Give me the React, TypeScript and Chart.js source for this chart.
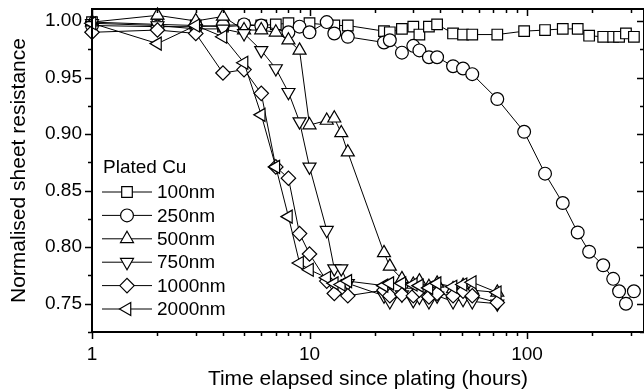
import React, { useEffect, useRef } from 'react';
import { Chart, registerables } from 'chart.js';

Chart.register(...registerables);

const FONT = "'Liberation Sans', Arial, Helvetica, sans-serif";

// ---- axis / label text ----
const X_TITLE = 'Time elapsed since plating (hours)';
const Y_TITLE = 'Normalised sheet resistance';
const LEGEND_TITLE = 'Plated Cu';
const X_TICKS = [1, 10, 100];
const Y_TICKS = [0.75, 0.8, 0.85, 0.9, 0.95, 1.0];
const X_MIN = 1;
const X_MAX = 345;
const Y_MIN = 0.725;
const Y_MAX = 1.0106;
const Y_MINOR_STEP = 0.025;

// ---- data ----
const SERIES_NAMES = ['100nm', '250nm', '500nm', '750nm', '1000nm', '2000nm'];

const T_100 = [1, 2, 3, 4, 5, 6, 7, 8, 10, 13, 15, 22, 23.4, 26.6, 30, 32, 35.4, 38.6, 45.7, 50.8, 56, 73, 97, 121, 146, 171, 193, 224, 249, 265, 285, 310];
const R_100 = [0.999, 0.997, 0.996, 0.995, 0.996, 0.996, 0.997, 0.998, 0.998, 0.996, 0.996, 0.991, 0.990, 0.993, 0.995, 0.988, 0.995, 0.997, 0.989, 0.988, 0.988, 0.988, 0.991, 0.992, 0.993, 0.993, 0.987, 0.986, 0.986, 0.986, 0.989, 0.986];

const T_250 = [1, 2, 3, 4, 5, 6, 8, 9, 10, 12, 13, 15, 22, 23.4, 26.6, 30, 32, 35.4, 38.6, 45.7, 50.8, 56, 73, 97, 121, 146, 171, 193, 224, 249, 265, 285, 310];
const R_250 = [0.996, 0.995, 0.995, 0.996, 0.997, 0.996, 0.990, 0.995, 0.990, 0.999, 0.989, 0.986, 0.981, 0.983, 0.972, 0.978, 0.974, 0.968, 0.968, 0.960, 0.958, 0.953, 0.931, 0.902, 0.865, 0.839, 0.813, 0.796, 0.784, 0.772, 0.761, 0.750, 0.761];

const T_500 = [1, 2, 3, 4, 5, 6, 7, 8, 9, 10, 12, 13, 14, 15, 22, 23.4, 26.6, 30, 32, 35.4, 38.6, 45.7, 50.8, 56, 73];
const R_500 = [0.999, 1.005, 1.000, 1.004, 0.992, 0.992, 0.990, 0.983, 0.974, 0.908, 0.912, 0.914, 0.901, 0.884, 0.795, 0.783, 0.772, 0.767, 0.770, 0.765, 0.768, 0.763, 0.766, 0.762, 0.760];

const T_750 = [1, 2, 3, 4, 5, 6, 7, 8, 9, 10, 12, 13, 14, 15, 22, 23.4, 26.6, 30, 32, 35.4, 38.6, 45.7, 50.8, 56, 73];
const R_750 = [0.998, 0.996, 0.993, 0.993, 0.989, 0.974, 0.958, 0.937, 0.911, 0.871, 0.815, 0.781, 0.781, 0.768, 0.757, 0.752, 0.758, 0.753, 0.756, 0.752, 0.757, 0.752, 0.754, 0.752, 0.750];

const T_1000 = [1, 2, 3, 4, 5, 6, 7, 8, 9, 10, 12, 13, 15, 22, 23.4, 26.6, 30, 32, 35.4, 38.6, 45.7, 50.8, 56, 73];
const R_1000 = [0.990, 0.992, 0.989, 0.954, 0.957, 0.936, 0.871, 0.861, 0.812, 0.794, 0.770, 0.759, 0.757, 0.762, 0.757, 0.758, 0.757, 0.762, 0.756, 0.759, 0.757, 0.761, 0.757, 0.751];

const T_2000 = [1, 2, 3, 4, 5, 6, 7, 8, 9, 10, 12, 13, 14, 15, 22, 23.4, 26.6, 30, 32, 35.4, 38.6, 45.7, 50.8, 56, 73];
const R_2000 = [0.998, 0.980, 0.996, 0.986, 0.963, 0.917, 0.871, 0.827, 0.786, 0.780, 0.773, 0.768, 0.767, 0.770, 0.766, 0.768, 0.768, 0.767, 0.766, 0.764, 0.768, 0.765, 0.767, 0.769, 0.760];

const SERIES_T = [T_100, T_250, T_500, T_750, T_1000, T_2000];
const SERIES_R = [R_100, R_250, R_500, R_750, R_1000, R_2000];

// ---- marker styles ----
const MARKERS = [
  { style: 'rect', radius: 7.5, rotation: 0 },
  { style: 'circle', radius: 6.4, rotation: 0 },
  { style: 'triangle', radius: 7.5, rotation: 0 },
  { style: 'triangle', radius: 7.5, rotation: 180 },
  { style: 'rectRot', radius: 7.2, rotation: 0 },
  { style: 'triangle', radius: 7.5, rotation: 270 },
];

function drawMarker(ctx: CanvasRenderingContext2D, m: any, x: number, y: number) {
  const r = m.radius;
  ctx.beginPath();
  if (m.style === 'rect') {
    const s = r * Math.SQRT1_2;
    ctx.rect(x - s, y - s, 2 * s, 2 * s);
  } else if (m.style === 'circle') {
    ctx.arc(x, y, r, 0, Math.PI * 2);
  } else if (m.style === 'rectRot') {
    ctx.moveTo(x - r, y);
    ctx.lineTo(x, y - r);
    ctx.lineTo(x + r, y);
    ctx.lineTo(x, y + r);
    ctx.closePath();
  } else {
    let rad = (m.rotation * Math.PI) / 180;
    for (let i = 0; i < 3; i++) {
      const px = x + Math.sin(rad) * r;
      const py = y - Math.cos(rad) * r;
      if (i === 0) ctx.moveTo(px, py);
      else ctx.lineTo(px, py);
      rad += (2 * Math.PI) / 3;
    }
    ctx.closePath();
  }
  ctx.fillStyle = '#fff';
  ctx.fill();
  ctx.stroke();
}

const framePlugin = {
  id: 'originFrame',
  afterDatasetsDraw(chart: any) {
    const { ctx, chartArea: a, scales } = chart;
    const xs = scales.x;
    const ys = scales.y;
    ctx.save();
    ctx.strokeStyle = '#000';
    ctx.lineWidth = 2;
    ctx.beginPath();
    ctx.moveTo(a.left, a.top);
    ctx.lineTo(a.right, a.top);
    ctx.moveTo(a.left, a.top - 1);
    ctx.lineTo(a.left, a.bottom + 1);
    ctx.moveTo(a.left, a.bottom);
    ctx.lineTo(a.right, a.bottom);
    ctx.moveTo(a.right, a.top);
    ctx.lineTo(a.right, a.bottom);
    ctx.stroke();

    ctx.lineWidth = 1.5;
    ctx.beginPath();
    // y ticks
    const nY = Math.round((Y_MAX - Y_MIN) / Y_MINOR_STEP);
    for (let k = 0; k <= nY; k++) {
      const v = Y_MIN + k * Y_MINOR_STEP;
      if (v > Y_MAX + 1e-9) break;
      const major = Math.abs(v / 0.05 - Math.round(v / 0.05)) < 1e-6;
      const py = Math.round(ys.getPixelForValue(v)) + 0.5;
      const L = major ? 7 : 4;
      ctx.moveTo(a.left, py);
      ctx.lineTo(a.left - L, py);
      ctx.moveTo(a.right, py);
      ctx.lineTo(a.right - L, py);
    }
    // x ticks (log)
    for (let dec = 1; dec <= X_MAX; dec *= 10) {
      for (let m = 1; m <= 9; m++) {
        const v = dec * m;
        if (v < X_MIN || v > X_MAX) continue;
        const px = Math.round(xs.getPixelForValue(v)) + 0.5;
        const L = m === 1 ? 7 : 4;
        ctx.moveTo(px, a.bottom);
        ctx.lineTo(px, a.bottom + L);
        ctx.moveTo(px, a.top);
        ctx.lineTo(px, a.top + L);
      }
    }
    ctx.stroke();

    // axis titles
    ctx.fillStyle = '#000';
    ctx.font = `21px ${FONT}`;
    ctx.textAlign = 'center';
    ctx.textBaseline = 'middle';
    ctx.fillText(X_TITLE, (a.left + a.right) / 2, 379);
    ctx.save();
    ctx.translate(19, (a.top + a.bottom) / 2);
    ctx.rotate(-Math.PI / 2);
    ctx.fillText(Y_TITLE, 0, 0);
    ctx.restore();

    // legend
    ctx.font = `19px ${FONT}`;
    ctx.textAlign = 'left';
    ctx.textBaseline = 'alphabetic';
    ctx.fillText(LEGEND_TITLE, 103, 173);
    ctx.textBaseline = 'middle';
    ctx.lineWidth = 1;
    for (let i = 0; i < SERIES_NAMES.length; i++) {
      const y = 192 + i * 23.4;
      ctx.beginPath();
      ctx.moveTo(102, y);
      ctx.lineTo(152, y);
      ctx.stroke();
      ctx.lineWidth = 1.2;
      drawMarker(ctx, MARKERS[i], 127, y);
      ctx.lineWidth = 1;
      ctx.fillStyle = '#000';
      ctx.fillText(SERIES_NAMES[i], 157, y + 1);
    }
    ctx.restore();
  },
};

export default function App() {
  const ref = useRef<HTMLCanvasElement | null>(null);

  useEffect(() => {
    if (!ref.current) return;
    const datasets = SERIES_NAMES.map((name, i) => ({
      label: name,
      data: SERIES_T[i].map((t, j) => ({ x: t, y: SERIES_R[i][j] })),
      borderColor: '#000',
      borderWidth: 1,
      backgroundColor: '#fff',
      pointStyle: MARKERS[i].style,
      pointRotation: MARKERS[i].rotation,
      pointRadius: MARKERS[i].radius,
      pointBorderWidth: 1.2,
      pointBorderColor: '#000',
      pointBackgroundColor: '#fff',
      showLine: true,
      fill: false,
      tension: 0,
      clip: false as any,
      order: SERIES_NAMES.length - i,
    }));

    const chart = new Chart(ref.current, {
      type: 'scatter',
      data: { datasets },
      options: {
        animation: false,
        responsive: false,
        maintainAspectRatio: false,
        devicePixelRatio: 1,
        layout: { autoPadding: false, padding: { top: 9, right: 0, bottom: 0, left: 0 } },
        plugins: { legend: { display: false }, tooltip: { enabled: false }, title: { display: false } },
        scales: {
          x: {
            type: 'logarithmic',
            min: X_MIN,
            max: X_MAX,
            grid: { display: false, drawTicks: false },
            border: { display: false },
            afterBuildTicks: (s: any) => {
              s.ticks = X_TICKS.map((v) => ({ value: v }));
            },
            afterFit: (s: any) => {
              s.height = 57;
              s.paddingLeft = 0;
              s.paddingRight = 0;
              s.paddingTop = 0;
              s.paddingBottom = 0;
            },
            ticks: {
              autoSkip: false,
              maxRotation: 0,
              minRotation: 0,
              padding: 11,
              color: '#000',
              font: { family: FONT, size: 19 },
              callback: (v: any) => String(v),
            },
          },
          y: {
            type: 'linear',
            min: Y_MIN,
            max: Y_MAX,
            grid: { display: false, drawTicks: false },
            border: { display: false },
            afterBuildTicks: (s: any) => {
              s.ticks = Y_TICKS.map((v) => ({ value: v }));
            },
            afterFit: (s: any) => {
              s.width = 92;
              s.paddingLeft = 0;
              s.paddingRight = 0;
              s.paddingTop = 0;
              s.paddingBottom = 0;
            },
            ticks: {
              padding: 10,
              color: '#000',
              font: { family: FONT, size: 19 },
              callback: (v: any) => Number(v).toFixed(2),
            },
          },
        },
      },
      plugins: [framePlugin],
    });
    return () => chart.destroy();
  }, []);

  return (
    <div style={{ position: 'fixed', left: 0, top: 0, width: 644, height: 389, background: '#fff' }}>
      <canvas ref={ref} width={644} height={389} style={{ display: 'block' }} />
    </div>
  );
}
